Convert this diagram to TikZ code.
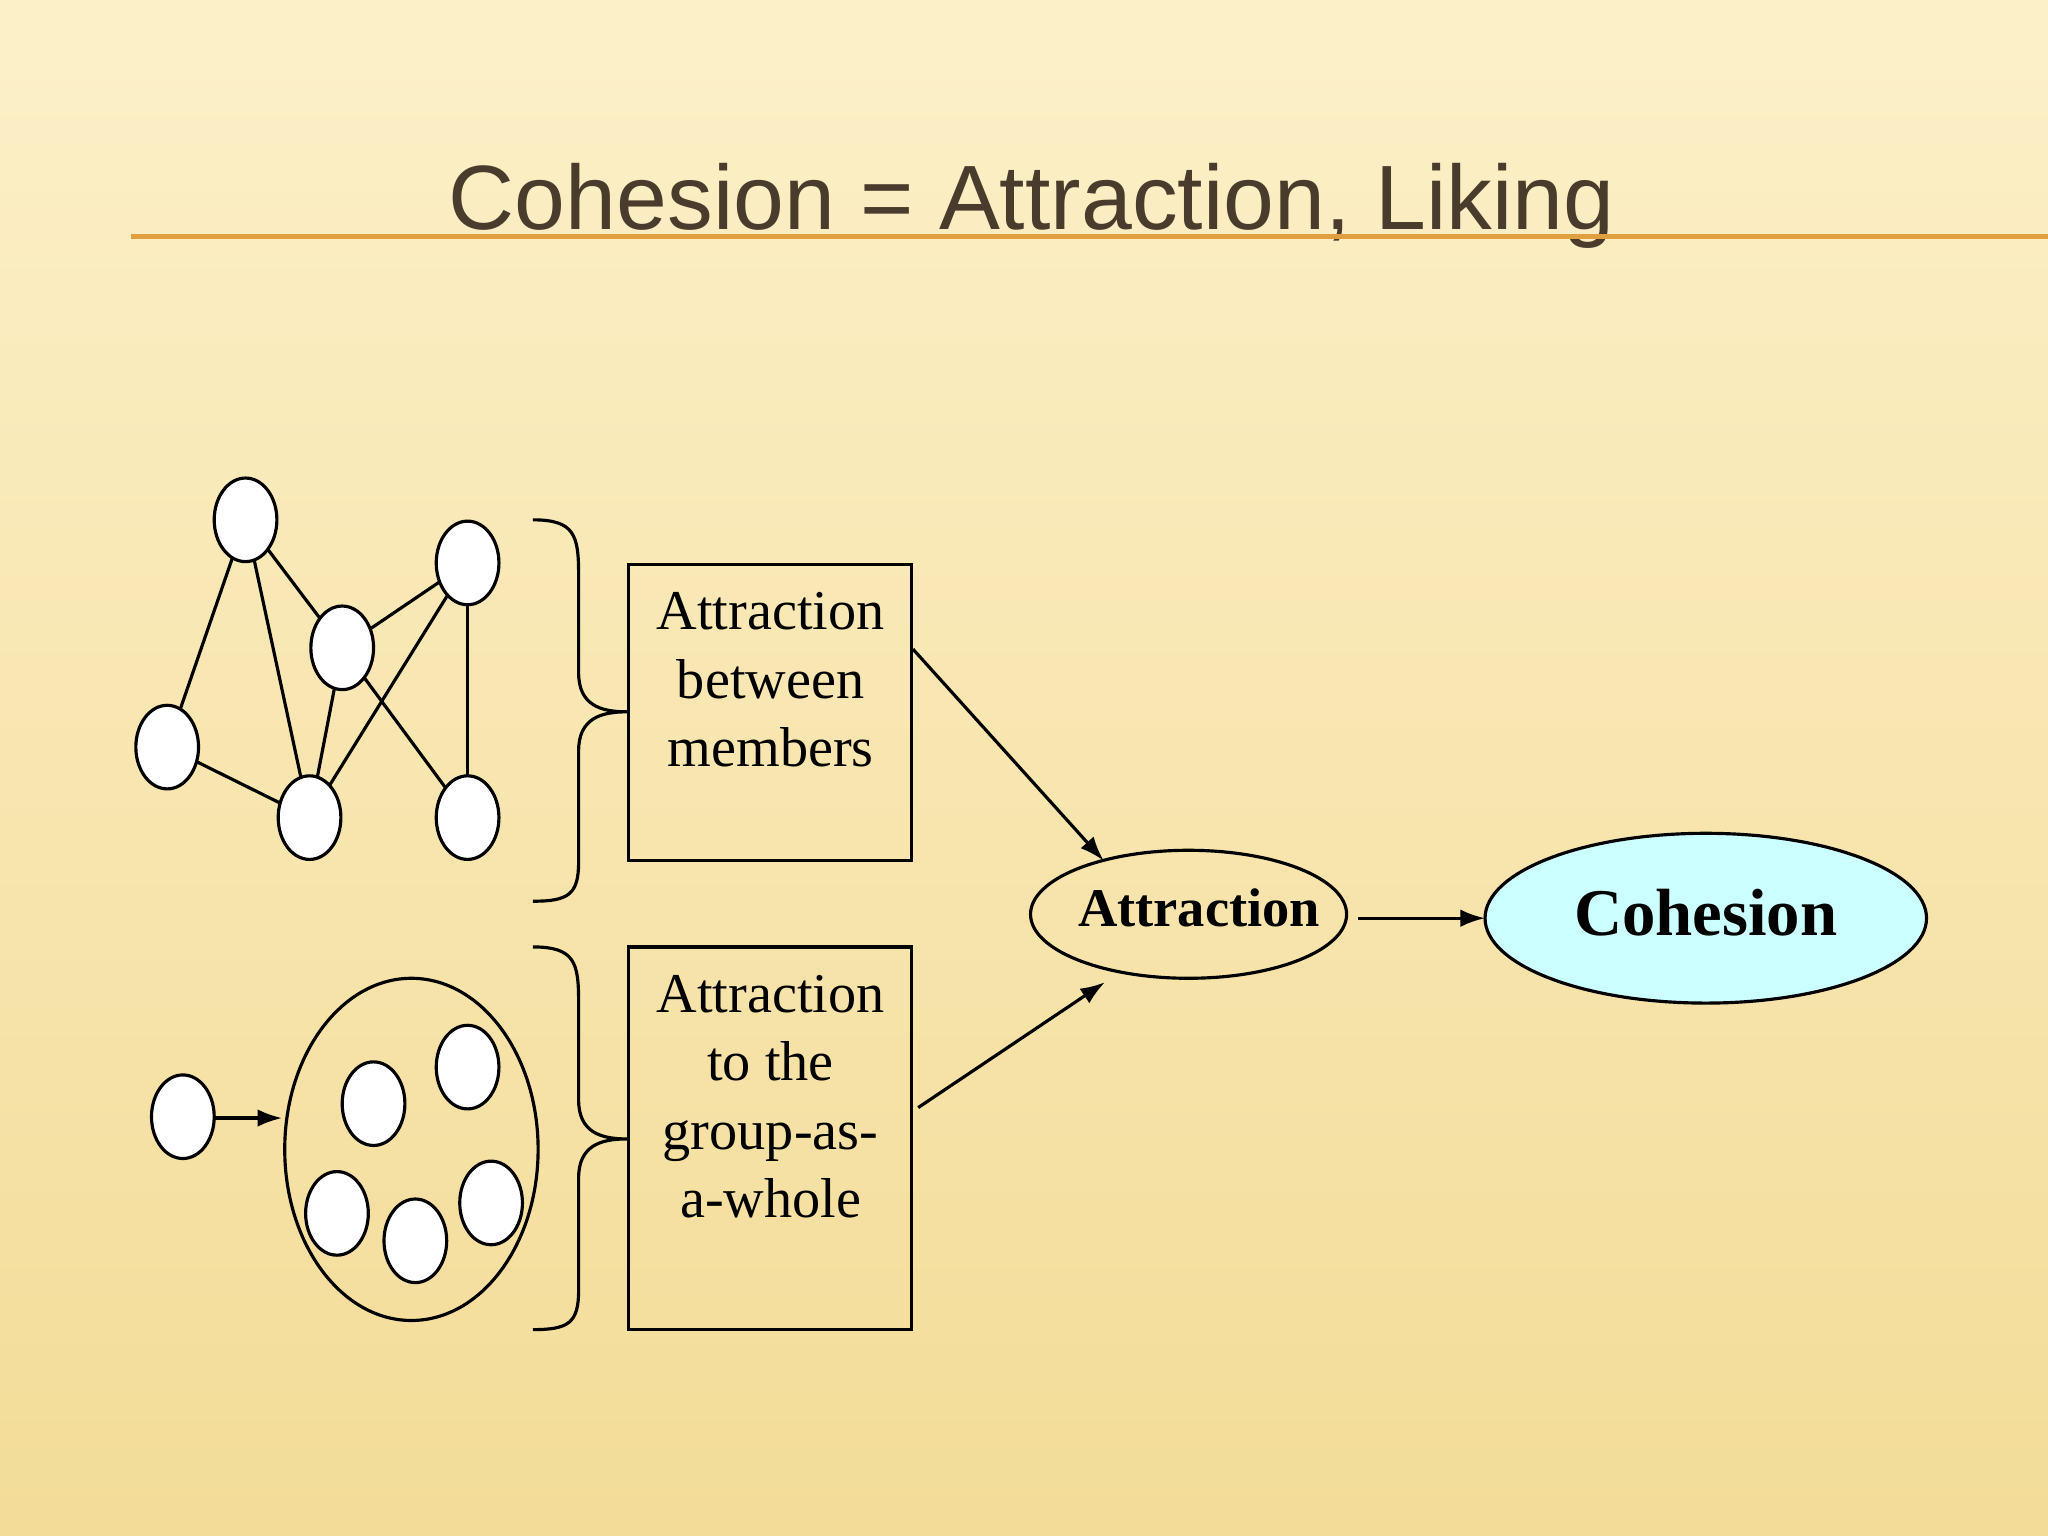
\documentclass[tikz,border=0pt]{standalone}
\usepackage{fontspec}
\setmainfont{Liberation Serif}
\newfontfamily\titlefont{Liberation Sans}
\usetikzlibrary{arrows.meta}
\definecolor{bgA}{HTML}{FCF0C8}
\definecolor{bgB}{HTML}{F3DC98}
\definecolor{titlec}{HTML}{4A3C2C}
\definecolor{linec}{HTML}{E0A040}
\definecolor{cyanf}{HTML}{CCFFFF}
\begin{document}
\begin{tikzpicture}[x=0.013061cm,y=-0.013061cm,
  box/.style={draw,line width=0.9pt},
  lk/.style={line width=0.9pt},
  arr/.style={line width=0.9pt,-{Latex[length=7pt,width=5pt]}},
  txt/.style={font=\fontsize{16}{19.5}\selectfont,align=center}]
\useasboundingbox (0,0) rectangle (1568,1176);
\shade[top color=bgA,bottom color=bgB] (0,0) rectangle (1568,1176);
\fill[bgA] (0,0) rectangle (1568,60);
\node[font=\titlefont\fontsize{26}{30}\selectfont,text=titlec] (title) at (790,158) {Cohesion = Attraction, Liking};
\draw[linec,line width=1.2pt] (100,181) -- (1568,181);
% network
\foreach \n/\x/\y in {A/188/398,B/358/431,C/262/496,D/128/572,E/237/626,F/358/626}
  \coordinate (\n) at (\x,\y);
\foreach \a/\b in {A/C,A/D,A/E,C/B,C/E,C/F,B/E,B/F,D/E}
  \draw[lk] (\a) -- (\b);
\foreach \x/\y in {188/398,358/431,262/496,128/572,237/626,358/626}
  \draw[lk,fill=white] (\x,\y) ellipse (24 and 32);
% group
\draw[lk] (315,880) ellipse (97 and 131);
\foreach \x/\y in {358/817,286/845,258/929,318/950,376/921}
  \draw[lk,fill=white] (\x,\y) ellipse (24 and 32);
\draw[lk,fill=white] (140,855) ellipse (24 and 32);
\coordinate (outR) at (164,856);
\coordinate (grpL) at (216,856);
\draw[arr] (outR) -- (grpL);
% braces
\draw[lk] (408,398) .. controls (440,398) and (443,410) .. (443,440) -- (443,515) .. controls (443,540) and (460,545) .. (480,545)
  .. controls (460,545) and (443,550) .. (443,575) -- (443,660) .. controls (443,685) and (435,690) .. (408,690);
\draw[lk] (408,725) .. controls (440,725) and (443,737) .. (443,767) -- (443,842) .. controls (443,867) and (460,872) .. (480,872)
  .. controls (460,872) and (443,877) .. (443,902) -- (443,988) .. controls (443,1013) and (435,1018) .. (408,1018);
% boxes
\draw[box] (481,432) rectangle (698,659);
\node[txt,anchor=north] (b1) at (590,444) {Attraction\\between\\members};
\draw[box] (481,725) rectangle (698,1018);
\node[txt,anchor=north] (b2) at (590,737) {Attraction\\to the\\group-as-\\a-whole};
\coordinate (b1r) at (699,497);
\coordinate (b2r) at (703,848);
% ellipses
\draw[lk] (910,700) ellipse (121 and 49);
\node[font=\fontsize{15.5}{18}\selectfont\bfseries] (att) at (918,695) {Attraction};
\draw[lk,fill=cyanf] (1306,703) ellipse (169 and 65);
\node[font=\fontsize{19}{22}\selectfont\bfseries] (coh) at (1306,699) {Cohesion};
\coordinate (attT) at (845,659);
\coordinate (attB) at (846,752);
\coordinate (attR) at (1040,703);
\coordinate (cohL) at (1137,703);
\draw[arr] (b1r) -- (attT);
\draw[arr] (b2r) -- (attB);
\draw[arr] (attR) -- (cohL);
\end{tikzpicture}
\end{document}
